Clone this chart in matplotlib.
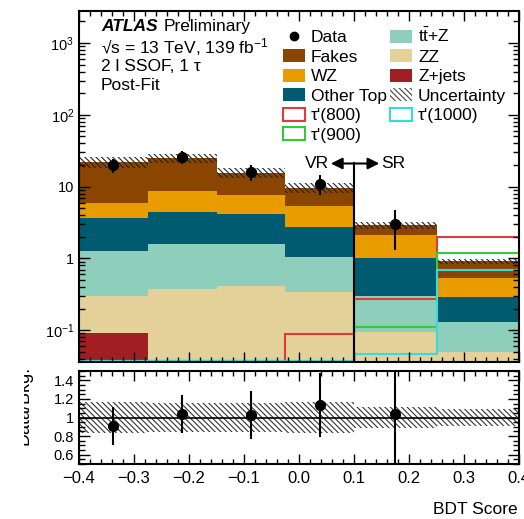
import numpy as np
import matplotlib
matplotlib.use("Agg")
import matplotlib.pyplot as plt
from matplotlib.lines import Line2D
from matplotlib.patches import Patch
from matplotlib.ticker import MultipleLocator, LogLocator, FuncFormatter, NullFormatter, FixedLocator
from matplotlib.transforms import Bbox, TransformedBbox

plt.rcParams['font.family'] = ['Liberation Sans', 'DejaVu Sans']
plt.rcParams['mathtext.fontset'] = 'custom'
plt.rcParams['mathtext.rm'] = 'Liberation Sans'
plt.rcParams['mathtext.it'] = 'Liberation Sans:italic'
plt.rcParams['hatch.linewidth'] = 0.8

# binning in BDT score
bin_edges = [-0.4, -0.275, -0.15, -0.025, 0.1, 0.25, 0.4]

# observed data (last bin blinded)
data_counts = [20, 26, 16, 11, 3]
data_errors = [4.5, 5.1, 4.0, 3.3, 1.7]

# post-fit backgrounds, stacked bottom to top
zjets = [0.09, 0.0, 0.0, 0.0, 0.0, 0.0]
zz = [0.21, 0.38, 0.41, 0.34, 0.093, 0.049]
ttz = [0.95, 1.22, 1.19, 0.69, 0.21, 0.081]
other_top = [2.45, 2.9, 2.5, 1.67, 0.70, 0.16]
wz = [2.3, 4.3, 3.6, 2.6, 1.1, 0.25]
fakes = [16.0, 16.2, 7.9, 4.4, 0.8, 0.37]

# relative total uncertainty per bin
unc_rel = [0.17, 0.155, 0.155, 0.165, 0.11, 0.095]

# signal hypotheses (values below the axis range are drawn on the frame)
tau800 = [0.01, 0.01, 0.01, 0.088, 0.27, 1.96]
tau900 = [0.01, 0.01, 0.01, 0.01, 0.11, 1.17]
tau1000 = [0.01, 0.01, 0.01, 0.01, 0.046, 0.68]

c_fakes = '#8a4500'
c_wz = '#e89c00'
c_other = '#005b70'
c_ttz = '#8ecfbb'
c_zz = '#e4d19a'
c_zjets = '#a11f22'
c_800 = '#e23a3a'
c_900 = '#33cc33'
c_1000 = '#33dddd'
hatch = '\\\\\\\\\\\\'

edges = np.array(bin_edges)
centers = 0.5 * (edges[:-1] + edges[1:])
ymin, ymax = 0.036, 2800

fig = plt.figure(figsize=(5.24, 5.19), dpi=100)
ax = fig.add_axes([79 / 524, 1 - 362 / 519, 440 / 524, 351 / 519])
rax = fig.add_axes([79 / 524, 1 - 464 / 519, 440 / 524, 93 / 519])

# stacked backgrounds
stack = [(zjets, c_zjets), (zz, c_zz), (ttz, c_ttz),
         (other_top, c_other), (wz, c_wz), (fakes, c_fakes)]
bottom = np.full(len(centers), 1e-4)
for vals, col in stack:
    top = bottom + np.array(vals)
    ax.stairs(top, edges, baseline=bottom, fill=True, color=col, lw=0)
    bottom = top
total = bottom - 1e-4
unc = np.array(unc_rel)

ax.stairs(total * (1 + unc), edges, baseline=total * (1 - unc), fill=True,
          facecolor='none', edgecolor='#222222', hatch=hatch, lw=0)

# signals
for vals, col in [(tau800, c_800), (tau900, c_900), (tau1000, c_1000)]:
    ax.stairs(np.maximum(vals, ymin * 1.03), edges, baseline=None, color=col, lw=1.5)

ndata = len(data_counts)
ax.errorbar(centers[:ndata], data_counts, yerr=data_errors, fmt='o', color='k',
            ms=7, elinewidth=1.5, capsize=0, zorder=5)

# VR / SR separation
ax.plot([0.1, 0.1], [ymin, 21], color='k', lw=1.5, zorder=6)
ax.annotate('', xy=(0.058, 21), xytext=(0.146, 21),
            arrowprops=dict(arrowstyle='<|-|>', color='k', lw=1.5, mutation_scale=17,
                            shrinkA=0, shrinkB=0))
ax.text(0.055, 21, 'VR', ha='right', va='center', fontsize=12.5)
ax.text(0.149, 21, 'SR', ha='left', va='center', fontsize=12.5)

ax.set_xlim(-0.4, 0.4)
ax.set_yscale('log')
ax.set_ylim(ymin, ymax)


def log_fmt(v, pos):
    e = int(round(np.log10(v)))
    if e == 0:
        return '1'
    if e == 1:
        return '10'
    return r'$10^{%d}$' % e


ax.yaxis.set_major_locator(LogLocator(base=10))
ax.yaxis.set_minor_locator(LogLocator(base=10, subs=np.arange(2, 10)))
ax.yaxis.set_major_formatter(FuncFormatter(log_fmt))
ax.yaxis.set_minor_formatter(NullFormatter())

for a in (ax, rax):
    a.xaxis.set_major_locator(MultipleLocator(0.1))
    a.xaxis.set_minor_locator(MultipleLocator(0.02))
    a.tick_params(which='both', direction='in', top=True, right=True)
    a.tick_params(axis='x', which='major', length=7, width=1)
    a.tick_params(axis='x', which='minor', length=3.5, width=1)
    a.tick_params(axis='y', which='major', length=8, width=1)
    a.tick_params(axis='y', which='minor', length=4, width=1)
    for s in a.spines.values():
        s.set_linewidth(1.5)
ax.tick_params(labelbottom=False, labelsize=10.5)

# labels
t = ax.text(0.05, 0.955, 'ATLAS', transform=ax.transAxes, fontsize=12.5,
            fontweight='bold', fontstyle='italic', va='center')
ax.annotate('Preliminary', xy=(1, 0), xycoords=t, xytext=(4, 0),
            textcoords='offset points', fontsize=12.5, va='bottom')
ax.text(0.05, 0.898, '√s = 13 TeV, 139 fb$^{-1}$', transform=ax.transAxes,
        fontsize=12.5, va='center')
ax.text(0.05, 0.841, '2 l SSOF, 1 τ', transform=ax.transAxes, fontsize=12.5, va='center')
ax.text(0.05, 0.787, 'Post-Fit', transform=ax.transAxes, fontsize=12.5, va='center')

handles = [
    Line2D([], [], marker='o', ls='none', color='k', ms=6),
    Patch(facecolor=c_fakes, lw=0),
    Patch(facecolor=c_wz, lw=0),
    Patch(facecolor=c_other, lw=0),
    Patch(facecolor='white', edgecolor=c_800, lw=1.5),
    Patch(facecolor='white', edgecolor=c_900, lw=1.5),
    Patch(facecolor=c_ttz, lw=0),
    Patch(facecolor=c_zz, lw=0),
    Patch(facecolor=c_zjets, lw=0),
    Patch(facecolor='none', edgecolor='#444444', hatch=hatch, lw=0),
    Patch(facecolor='white', edgecolor=c_1000, lw=1.5),
]
labels = ['Data', 'Fakes', 'WZ', 'Other Top', "τ'(800)", "τ'(900)",
          r'$\mathrm{t\bar{t}}$+Z', 'ZZ', 'Z+jets', 'Uncertainty', "τ'(1000)"]
ax.legend(handles, labels, ncol=2, loc='upper left', bbox_to_anchor=(283 / 524, 1 - 27 / 519),
          bbox_transform=fig.transFigure, frameon=False, fontsize=12.5, borderpad=0,
          borderaxespad=0, handlelength=1.25, handleheight=0.8, handletextpad=0.35,
          labelspacing=0.22, columnspacing=0.2)

# ratio panel
rax.stairs(1 + unc, edges, baseline=1 - unc, fill=True, facecolor='none',
           edgecolor='#333333', hatch=hatch, lw=0)
rax.axhline(1, color='k', lw=1.2)
ratio = np.array(data_counts) / total[:ndata]
ratio_err = np.array(data_errors) / total[:ndata]
rax.errorbar(centers[:ndata], ratio, yerr=ratio_err, fmt='o', color='k', ms=7,
             elinewidth=1.5, capsize=0, zorder=5)
rax.set_xlim(-0.4, 0.4)
rax.set_ylim(0.5, 1.5)
rax.yaxis.set_major_locator(FixedLocator([0.6, 0.8, 1.0, 1.2, 1.4]))
rax.yaxis.set_minor_locator(MultipleLocator(0.05))
rax.yaxis.set_major_formatter(FuncFormatter(lambda v, p: '%g' % v))
rax.tick_params(axis='y', labelsize=10.5)
rax.tick_params(axis='x', labelsize=12, pad=5)

fig.text(518 / 524, 1 - 509 / 519, 'BDT Score', ha='right', va='center', fontsize=12.5)

# axis titles, cut at the left edge of the canvas
clip = TransformedBbox(Bbox.from_extents(24 / 524, 0, 1, 1), fig.transFigure)
ev = fig.text(19 / 524, 1 - 9 / 519, 'Events', rotation=90, ha='center', va='top', fontsize=13)
db = fig.text(24 / 524, 1 - 366 / 519, 'Data/Bkg.', rotation=90, ha='center', va='top', fontsize=13)
for txt in (ev, db):
    txt.set_clip_on(True)
    txt.set_clip_box(clip)

fig.savefig('out.png', dpi=100)
